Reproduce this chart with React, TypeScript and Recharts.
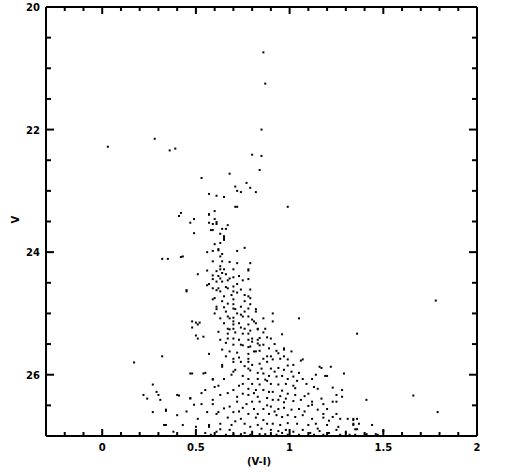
import React from "react";
import { ScatterChart, Scatter, XAxis, YAxis } from "recharts";

// Colour index (V-I) and magnitude V, grouped by region.
const brightStars: [number, number][] = [
  [0.86, 20.74], [0.87, 21.25], [0.85, 22.0], [0.85, 22.43], [0.8, 22.41], [0.84, 22.66],
  [0.82, 23.02], [0.79, 22.95], [0.99, 23.26], [0.28, 22.15], [0.03, 22.28], [0.36, 22.34],
  [0.39, 22.31], [0.53, 22.79], [0.68, 22.72], [0.71, 22.93], [0.72, 23.0], [0.74, 23.02],
  [0.77, 22.87], [0.57, 23.05], [0.61, 23.08], [0.65, 23.1], [0.72, 23.26], [0.42, 23.36],
  [0.41, 23.41], [0.49, 23.46], [0.47, 23.52], [0.49, 23.69],
];

const turnoffStars: [number, number][] = [
  [0.57, 23.39], [0.6, 23.46], [0.61, 23.51], [0.57, 23.52], [0.59, 23.54], [0.58, 23.64],
  [0.59, 23.64], [0.64, 23.62], [0.66, 23.62], [0.67, 23.56], [0.63, 23.7], [0.65, 23.77],
  [0.57, 23.38], [0.61, 23.54], [0.65, 23.74], [0.65, 23.8], [0.63, 23.85], [0.6, 23.87],
  [0.76, 23.93], [0.72, 23.98], [0.62, 23.97], [0.59, 23.98], [0.56, 24.0], [0.64, 24.03],
  [0.63, 24.07], [0.43, 24.07], [0.71, 23.26], [0.6, 23.33], [0.32, 24.11], [0.35, 24.11],
  [0.42, 24.08],
];

const upperMainSequence: [number, number][] = [
  [0.59, 24.15], [0.64, 24.15], [0.68, 24.16], [0.72, 24.18], [0.79, 24.18], [0.63, 24.28],
  [0.65, 24.28], [0.64, 24.34], [0.78, 24.3], [0.51, 24.36], [0.59, 24.38], [0.62, 24.39],
  [0.68, 24.43], [0.7, 24.41], [0.61, 24.48], [0.64, 24.48], [0.67, 24.46], [0.75, 24.46],
  [0.45, 24.62], [0.56, 24.54], [0.59, 24.59], [0.66, 24.57], [0.67, 24.59], [0.7, 24.56],
  [0.74, 24.61], [0.63, 24.64], [0.7, 24.64], [0.72, 24.66], [0.79, 24.61], [0.65, 24.72],
  [0.76, 24.7], [0.79, 24.75], [0.59, 24.77], [0.64, 24.8], [0.67, 24.84], [0.7, 24.85],
  [0.74, 24.89], [0.79, 24.85], [0.61, 24.89], [0.71, 24.93], [0.66, 24.97], [0.76, 24.97],
  [0.82, 24.97], [0.63, 25.08], [0.67, 25.05], [0.68, 25.08], [0.7, 25.07], [0.75, 25.05],
  [0.8, 25.1], [0.6, 25.0], [0.65, 25.16], [0.7, 25.18], [0.73, 25.16], [0.78, 25.18],
  [0.82, 25.16], [0.5, 25.15], [0.51, 25.18], [0.48, 25.23], [0.67, 25.25], [0.7, 25.25],
  [0.74, 25.23], [0.76, 25.25], [0.79, 25.28], [0.83, 25.26], [0.86, 25.31], [0.67, 25.33],
  [0.71, 25.31], [0.75, 25.33], [0.78, 25.33], [0.5, 25.36], [0.54, 25.38], [0.63, 25.43],
  [0.67, 25.41], [0.7, 25.41], [0.73, 25.43], [0.78, 25.43], [0.8, 25.41], [0.83, 25.43],
  [0.88, 25.39], [0.7, 25.51], [0.75, 25.52], [0.83, 25.49], [0.84, 25.52], [0.79, 25.54],
  [0.45, 24.64], [0.48, 25.13], [0.52, 25.15], [0.51, 25.41], [0.62, 25.3], [0.7, 25.13],
  [0.74, 25.02], [0.78, 25.05], [0.78, 24.92], [0.7, 24.92], [0.61, 24.93], [0.6, 24.75],
  [0.7, 24.77], [0.78, 24.72], [0.62, 24.59], [0.57, 24.52], [0.59, 24.44], [0.63, 24.43],
  [0.73, 24.39], [0.78, 24.44], [0.61, 24.31], [0.63, 24.23], [0.7, 24.28], [0.62, 23.95],
  [0.78, 24.28], [0.68, 25.26], [0.82, 24.93], [0.86, 25.08], [0.81, 25.13], [0.83, 25.25],
  [0.87, 25.25], [0.8, 25.46], [0.86, 25.51], [0.9, 25.41], [0.91, 25.0], [0.91, 25.13],
  [0.96, 25.34], [1.05, 25.08], [0.74, 25.51], [0.64, 25.59], [0.72, 25.0], [0.65, 24.9],
  [0.69, 24.7], [0.61, 24.62], [0.56, 24.3], [0.66, 24.36], [0.72, 24.52], [0.76, 24.8],
  [0.84, 25.4], [0.92, 25.5], [0.66, 25.48],
];

const lowerMainSequence: [number, number][] = [
  [0.68, 25.62], [0.72, 25.64], [0.78, 25.66], [0.81, 25.62], [0.84, 25.61], [0.57, 25.66],
  [0.64, 25.84], [0.7, 25.79], [0.78, 25.79], [0.8, 25.84], [0.84, 25.82], [0.88, 25.79],
  [0.71, 25.92], [0.79, 25.93], [0.83, 25.97], [0.86, 25.98], [0.48, 25.98], [0.55, 25.97],
  [0.65, 26.07], [0.75, 26.02], [0.78, 26.07], [0.83, 26.07], [0.87, 26.08], [0.59, 26.08],
  [0.75, 26.15], [0.8, 26.15], [0.84, 26.16], [0.73, 26.18], [0.7, 26.25], [0.78, 26.23],
  [0.82, 26.25], [0.86, 26.25], [0.89, 26.28], [0.47, 26.39], [0.63, 26.33], [0.75, 26.31],
  [0.78, 26.33], [0.83, 26.36], [0.88, 26.38], [0.59, 26.48], [0.72, 26.44], [0.8, 26.44],
  [0.84, 26.44], [0.53, 26.48], [0.68, 26.52], [0.75, 26.54], [0.81, 26.56], [0.86, 26.56],
  [0.62, 26.61], [0.7, 26.61], [0.78, 26.64], [0.83, 26.64], [0.89, 26.64], [0.67, 26.7],
  [0.74, 26.72], [0.82, 26.7], [0.86, 26.74], [0.51, 26.72], [0.43, 26.82], [0.57, 26.82],
  [0.63, 26.8], [0.76, 26.8], [0.83, 26.82], [0.88, 26.8], [0.61, 26.93], [0.74, 26.97],
  [0.8, 26.93], [0.84, 26.97], [0.87, 26.97], [0.58, 26.98], [0.7, 26.98], [0.79, 26.98],
  [0.47, 25.98], [0.32, 25.7], [0.17, 25.8], [0.27, 26.16], [0.22, 26.33], [0.3, 26.33],
  [0.34, 26.57], [0.27, 26.61], [0.33, 26.82], [0.38, 26.93], [0.41, 26.34], [0.47, 26.38],
  [0.49, 26.49], [0.56, 26.61], [0.55, 26.25], [0.59, 26.41], [0.61, 26.64], [0.63, 26.89],
  [0.68, 26.9], [0.57, 26.85], [0.54, 25.98], [0.59, 26.07], [0.64, 25.87], [0.7, 25.95],
  [0.74, 25.79], [0.78, 25.9], [0.7, 25.74], [0.78, 25.74], [0.24, 26.39], [0.29, 26.28],
  [0.31, 26.41], [0.4, 26.33], [0.34, 26.59], [0.4, 26.66], [0.34, 26.82], [0.66, 25.7],
  [0.73, 25.72], [0.76, 25.86], [0.69, 26.0], [0.62, 26.18], [0.67, 26.3], [0.72, 26.36],
  [0.77, 26.48], [0.65, 26.55], [0.71, 26.76], [0.79, 26.85], [0.85, 26.88], [0.76, 26.95],
  [0.66, 26.98], [0.55, 26.95], [0.5, 26.85], [0.45, 26.6], [0.53, 26.3], [0.6, 26.2],
  [0.85, 25.9], [0.78, 25.55], [0.81, 26.3], [0.73, 26.6], [0.69, 26.82],
];

const redderStars: [number, number][] = [
  [0.89, 25.57], [0.93, 25.61], [0.97, 25.59], [1.01, 25.62], [0.88, 25.7], [0.91, 25.75],
  [0.95, 25.74], [0.99, 25.75], [1.06, 25.77], [0.9, 25.9], [0.94, 25.89], [0.97, 25.92],
  [1.01, 25.95], [1.05, 25.97], [1.17, 25.89], [0.89, 26.02], [0.93, 26.03], [0.96, 26.02],
  [0.99, 26.07], [1.04, 26.1], [1.14, 26.0], [1.19, 26.02], [1.29, 25.98], [0.9, 26.15],
  [0.94, 26.16], [0.98, 26.15], [1.02, 26.18], [1.09, 26.15], [1.15, 26.23], [1.23, 26.21],
  [1.28, 26.25], [0.91, 26.28], [0.96, 26.26], [0.99, 26.31], [1.03, 26.33], [1.1, 26.31],
  [0.91, 26.41], [0.94, 26.41], [0.98, 26.39], [1.02, 26.43], [1.06, 26.41], [1.12, 26.44],
  [1.18, 26.48], [1.25, 26.44], [0.9, 26.52], [0.94, 26.56], [0.97, 26.54], [1.01, 26.57],
  [1.05, 26.56], [1.1, 26.51], [1.15, 26.57], [1.2, 26.56], [0.93, 26.66], [0.96, 26.69],
  [0.99, 26.66], [1.03, 26.69], [1.07, 26.66], [1.12, 26.72], [1.18, 26.7], [1.23, 26.69],
  [1.27, 26.72], [0.91, 26.8], [0.95, 26.82], [0.99, 26.79], [1.04, 26.8], [1.1, 26.82],
  [1.14, 26.8], [1.2, 26.82], [1.26, 26.85], [1.34, 26.82], [0.9, 26.9], [0.94, 26.92],
  [0.98, 26.9], [1.02, 26.93], [1.07, 26.9], [1.11, 26.95], [1.16, 26.92], [1.21, 26.95],
  [1.25, 26.9], [1.3, 26.93], [0.93, 26.98], [0.99, 26.98], [1.05, 26.98], [1.13, 26.98],
  [1.18, 26.98], [1.27, 26.98], [1.32, 26.98], [1.22, 25.87], [1.16, 25.87], [1.2, 26.02],
  [1.12, 26.07], [1.07, 25.75], [1.07, 26.07], [0.97, 25.57], [0.86, 25.74], [0.9, 25.7],
  [0.97, 25.7], [1.02, 25.84], [1.02, 26.03], [1.25, 26.33], [1.28, 26.36], [1.23, 26.44],
  [1.17, 26.39], [1.12, 26.49], [1.18, 26.64], [1.25, 26.64], [1.31, 26.72], [1.34, 26.74],
  [1.34, 26.8], [1.35, 26.89], [1.41, 26.97], [1.46, 26.97], [1.34, 26.72], [1.36, 26.72],
  [1.37, 26.8], [1.36, 26.89], [1.44, 26.82], [1.41, 26.98], [1.47, 26.98], [1.5, 26.92],
  [1.35, 26.98], [0.82, 25.62], [0.92, 26.6], [0.95, 26.35], [0.88, 26.1], [0.92, 25.95],
  [0.99, 25.85], [1.03, 26.22], [1.08, 26.6], [1.15, 26.88], [1.21, 26.75], [0.94, 25.65],
  [0.97, 26.45], [1.08, 26.35], [1.13, 26.2], [0.88, 26.5], [0.96, 26.95],
];

const fieldStars: [number, number][] = [
  [1.78, 24.79], [1.36, 25.33], [1.66, 26.34], [1.41, 26.41], [1.79, 26.61],
];

const xTicks = [
  -0.2, -0.1, 0, 0.1, 0.2, 0.3, 0.4, 0.5, 0.6, 0.7, 0.8, 0.9, 1, 1.1, 1.2, 1.3, 1.4, 1.5,
  1.6, 1.7, 1.8, 1.9, 2,
];
const xMajorTicks = [0, 0.5, 1, 1.5, 2];
const xTickLabels = ["0", "0.5", "1", "1.5", "2"];
const yTicks = [
  20, 20.5, 21, 21.5, 22, 22.5, 23, 23.5, 24, 24.5, 25, 25.5, 26, 26.5, 27,
];
const yMajorTicks = [20, 22, 24, 26];
const yTickLabels = ["20", "22", "24", "26"];

const toPoints = (arr: [number, number][]) => arr.map(([vi, v]) => ({ vi, v }));
const allStars = [
  ...toPoints(brightStars),
  ...toPoints(turnoffStars),
  ...toPoints(upperMainSequence),
  ...toPoints(lowerMainSequence),
  ...toPoints(redderStars),
  ...toPoints(fieldStars),
];

const FONT = "'DejaVu Sans', sans-serif";
const isMajor = (list: number[], v: number) => list.some((m) => Math.abs(m - v) < 1e-6);
const labelOf = (list: number[], labels: string[], v: number) => {
  const i = list.findIndex((m) => Math.abs(m - v) < 1e-6);
  return i >= 0 ? labels[i] : null;
};

const BottomTick = (props: any) => {
  const { x, y, payload } = props;
  const major = isMajor(xMajorTicks, payload.value);
  const label = labelOf(xMajorTicks, xTickLabels, payload.value);
  return (
    <g>
      <line x1={x} x2={x} y1={y} y2={y - (major ? 7 : 4)} stroke="#000" strokeWidth={2} />
      {label !== null && (
        <text x={x} y={y + 15} textAnchor="middle" fontFamily={FONT} fontWeight="bold" fontSize={10} fill="#000">
          {label}
        </text>
      )}
    </g>
  );
};

const TopTick = (props: any) => {
  const { x, y, payload } = props;
  const major = isMajor(xMajorTicks, payload.value);
  return <line x1={x} x2={x} y1={y} y2={y + (major ? 7 : 4)} stroke="#000" strokeWidth={2} />;
};

const LeftTick = (props: any) => {
  const { x, y, payload } = props;
  const major = isMajor(yMajorTicks, payload.value);
  const label = labelOf(yMajorTicks, yTickLabels, payload.value);
  return (
    <g>
      <line x1={x} x2={x + (major ? 8 : 5)} y1={y} y2={y} stroke="#000" strokeWidth={2} />
      {label !== null && (
        <text x={x - 6} y={y + 4} textAnchor="end" fontFamily={FONT} fontWeight="bold" fontSize={10} fill="#000">
          {label}
        </text>
      )}
    </g>
  );
};

const RightTick = (props: any) => {
  const { x, y, payload } = props;
  const major = isMajor(yMajorTicks, payload.value);
  return <line x1={x} x2={x - (major ? 8 : 5)} y1={y} y2={y} stroke="#000" strokeWidth={2} />;
};

const Dot = (props: any) => {
  const { cx, cy } = props;
  if (cx == null || cy == null) return null;
  return <rect x={cx - 1} y={cy - 1} width={2} height={2} fill="#000" />;
};

export default function App() {
  return (
    <div style={{ position: "absolute", left: 0, top: 0, width: 512, height: 474, background: "#fff" }}>
      <ScatterChart width={512} height={474} margin={{ top: 6, right: 34, bottom: 8, left: 6 }}>
        <XAxis
          xAxisId="b"
          dataKey="vi"
          type="number"
          domain={[-0.3, 2]}
          allowDataOverflow
          ticks={xTicks}
          interval={0}
          height={30}
          tickSize={0}
          tickMargin={0}
          tickLine={false}
          axisLine={{ stroke: "#000", strokeWidth: 2 }}
          tick={<BottomTick />}
        />
        <XAxis
          xAxisId="t"
          orientation="top"
          dataKey="vi"
          type="number"
          domain={[-0.3, 2]}
          allowDataOverflow
          ticks={xTicks}
          interval={0}
          height={1}
          tickSize={0}
          tickMargin={0}
          tickLine={false}
          axisLine={{ stroke: "#000", strokeWidth: 2 }}
          tick={<TopTick />}
        />
        <YAxis
          yAxisId="l"
          dataKey="v"
          type="number"
          domain={[20, 27]}
          reversed
          allowDataOverflow
          ticks={yTicks}
          interval={0}
          width={40}
          tickSize={0}
          tickMargin={0}
          tickLine={false}
          axisLine={{ stroke: "#000", strokeWidth: 2 }}
          tick={<LeftTick />}
        />
        <YAxis
          yAxisId="r"
          orientation="right"
          dataKey="v"
          type="number"
          domain={[20, 27]}
          reversed
          allowDataOverflow
          ticks={yTicks}
          interval={0}
          width={1}
          tickSize={0}
          tickMargin={0}
          tickLine={false}
          axisLine={{ stroke: "#000", strokeWidth: 2 }}
          tick={<RightTick />}
        />
        <Scatter xAxisId="b" yAxisId="l" data={allStars} shape={<Dot />} isAnimationActive={false} />
        <Scatter xAxisId="t" yAxisId="r" data={allStars} shape={() => <g />} isAnimationActive={false} />
      </ScatterChart>
      <div
        style={{
          position: "absolute",
          left: 247,
          top: 456,
          fontFamily: FONT,
          fontWeight: "bold",
          fontSize: 10,
          whiteSpace: "nowrap",
        }}
      >
        (V-I)
      </div>
      <div
        style={{
          position: "absolute",
          left: 12,
          top: 214,
          fontFamily: FONT,
          fontWeight: "bold",
          fontSize: 10,
          transform: "rotate(-90deg)",
          transformOrigin: "center",
        }}
      >
        V
      </div>
    </div>
  );
}
